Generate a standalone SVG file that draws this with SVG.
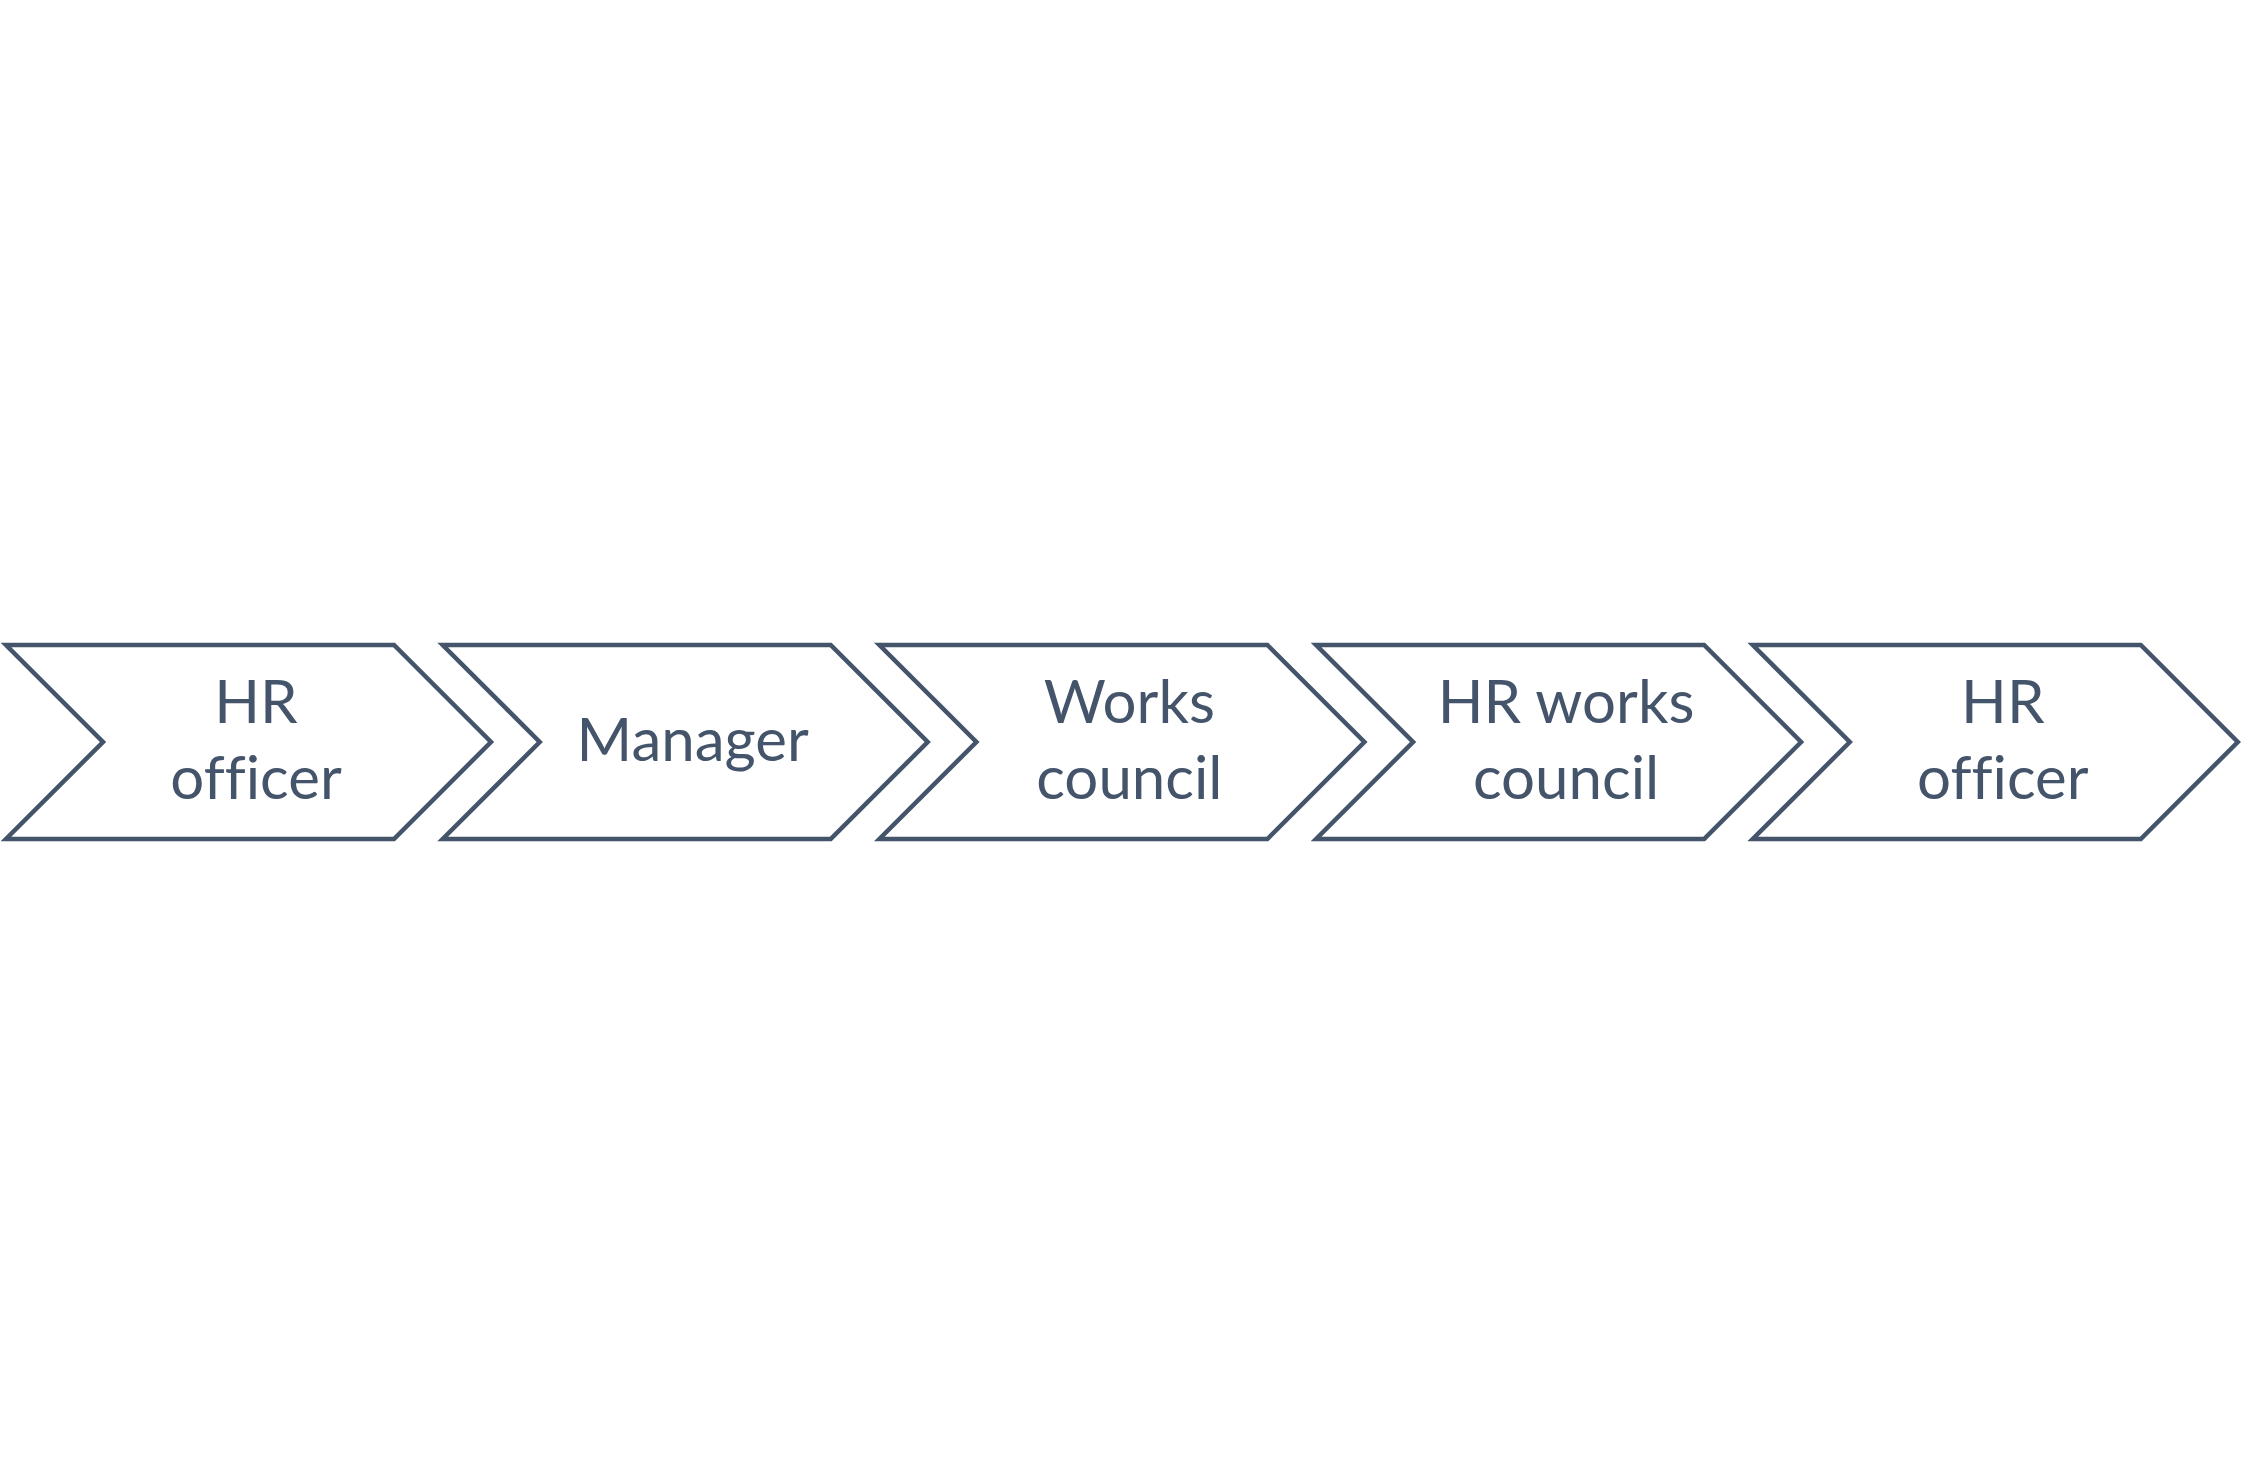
<svg xmlns="http://www.w3.org/2000/svg" width="2243" height="1484" viewBox="0 0 2243 1484">
<style>
.chev{fill:#FFFFFF;stroke:#44546A;stroke-width:4.5;stroke-linejoin:miter}
.lbl{font-family:Lato,"Open Sans","Liberation Sans",sans-serif;font-size:60px;fill:#44546A;text-anchor:middle;font-variant-ligatures:none;font-feature-settings:"liga" 0}
</style>
<defs>
<path id="chevronShape" d="M0,0 L388,0 L485,97 L388,194 L0,194 L97,97 Z"/>
</defs>
<rect width="2243" height="1484" fill="#FFFFFF"/>
<g id="connectors"></g>
<g id="node1">
<use href="#chevronShape" class="chev" transform="translate(6,645)"/>
<text class="lbl" x="256" y="723">HR</text>
<text class="lbl" x="256" y="799">officer</text>
</g>
<g id="node2">
<use href="#chevronShape" class="chev" transform="translate(442.7,645)"/>
<text class="lbl" x="692.7" y="761">Manager</text>
</g>
<g id="node3">
<use href="#chevronShape" class="chev" transform="translate(879.4,645)"/>
<text class="lbl" x="1129.4" y="723">Works</text>
<text class="lbl" x="1129.4" y="799">council</text>
</g>
<g id="node4">
<use href="#chevronShape" class="chev" transform="translate(1316.1,645)"/>
<text class="lbl" x="1566.1" y="723">HR works</text>
<text class="lbl" x="1566.1" y="799">council</text>
</g>
<g id="node5">
<use href="#chevronShape" class="chev" transform="translate(1752.8,645)"/>
<text class="lbl" x="2002.8" y="723">HR</text>
<text class="lbl" x="2002.8" y="799">officer</text>
</g>
</svg>
